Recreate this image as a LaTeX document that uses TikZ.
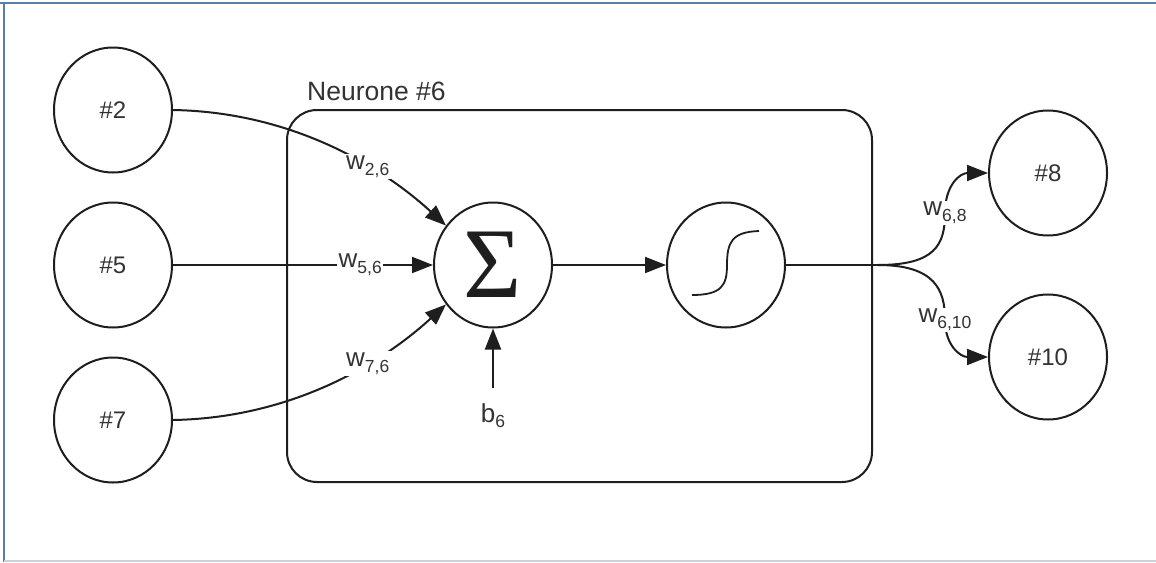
\documentclass[tikz,border=0pt]{standalone}
\usepackage{fontspec}
\setmainfont{Liberation Sans}
\newfontfamily\sigfont{Liberation Serif}
\usetikzlibrary{arrows.meta,shapes.geometric}
\definecolor{ln}{HTML}{1E1E1E}
\definecolor{tx}{HTML}{333333}
\definecolor{frameblue}{HTML}{5B7EA2}
\definecolor{framegray}{HTML}{C9D1D9}
\newcommand\wlab[2]{#1\raisebox{-0.22em}{\fontsize{17.5}{17.5}\selectfont #2}}
\begin{document}
\begin{tikzpicture}[x=1pt,y=-1pt,
  neuron/.style={ellipse,draw=ln,line width=2pt,minimum width=118pt,minimum height=125pt,inner sep=0pt,text=tx,font=\fontsize{24}{24}\selectfont},
  conn/.style={draw=ln,line width=2pt},
  arr/.style={conn,-{Triangle[length=21pt,width=16pt]}},
  lbl/.style={fill=white,inner sep=1.5pt,text=tx,font=\fontsize{26}{26}\selectfont}]
\useasboundingbox (0,0) rectangle (1156,562);
\fill[white] (0,0) rectangle (1156,562);
\draw[frameblue,line width=2.5pt] (0,3) -- (1156,3);
\draw[frameblue,line width=2pt] (4,3) -- (4,562);
\draw[framegray,line width=2pt] (4,561) -- (1156,561);

\draw[conn,rounded corners=30pt] (287,110) rectangle (872,482);
\node[anchor=base west,text=tx,font=\fontsize{26.5}{26.5}\selectfont,inner sep=0pt] (title) at (307,100) {Neurone \#6};

\node[neuron] (n2) at (113,110) {\#2};
\node[neuron] (n5) at (113,265) {\#5};
\node[neuron] (n7) at (113,420) {\#7};
\node[neuron] (n8) at (1048,173) {\#8};
\node[neuron] (n10) at (1048,357) {\#10};
\node[neuron,text=ln,font=\sigfont\fontsize{100}{100}\selectfont] (sig) at (493,265) {Σ};
\node[neuron] (sg) at (726,265) {};
\draw[conn,line width=1.8pt] (692,295) .. controls (722,295) and (727,285) .. (727,265) .. controls (727,242) and (732,232) .. (759,231);

\draw[arr] (n2.east) .. controls (290,112) and (380,165) .. node[lbl,pos=0.65]{\wlab{w}{2,6}} (sig.140);
\draw[arr] (n5.east) -- node[lbl,pos=0.72]{\wlab{w}{5,6}} (sig.west);
\draw[arr] (n7.east) .. controls (290,418) and (380,365) .. node[lbl,pos=0.65]{\wlab{w}{7,6}} (sig.220);

\node[lbl,anchor=base] (b6) at (493,422) {\wlab{b}{6}};
\draw[arr,shorten <=13pt] (b6.north) -- (sig.south);

\draw[arr] (sig.east) -- (sg.west);

\coordinate (split) at (878,265);
\draw[conn] (sg.east) -- (split);
\draw[arr] (split) .. controls (935,265) and (945,245) .. (945,213) node[lbl]{\wlab{w}{6,8}} .. controls (945,185) and (960,173) .. (n8.west);
\draw[arr] (split) .. controls (935,265) and (945,290) .. (945,320) node[lbl]{\wlab{w}{6,10}} .. controls (945,345) and (960,357) .. (n10.west);
\end{tikzpicture}
\end{document}
